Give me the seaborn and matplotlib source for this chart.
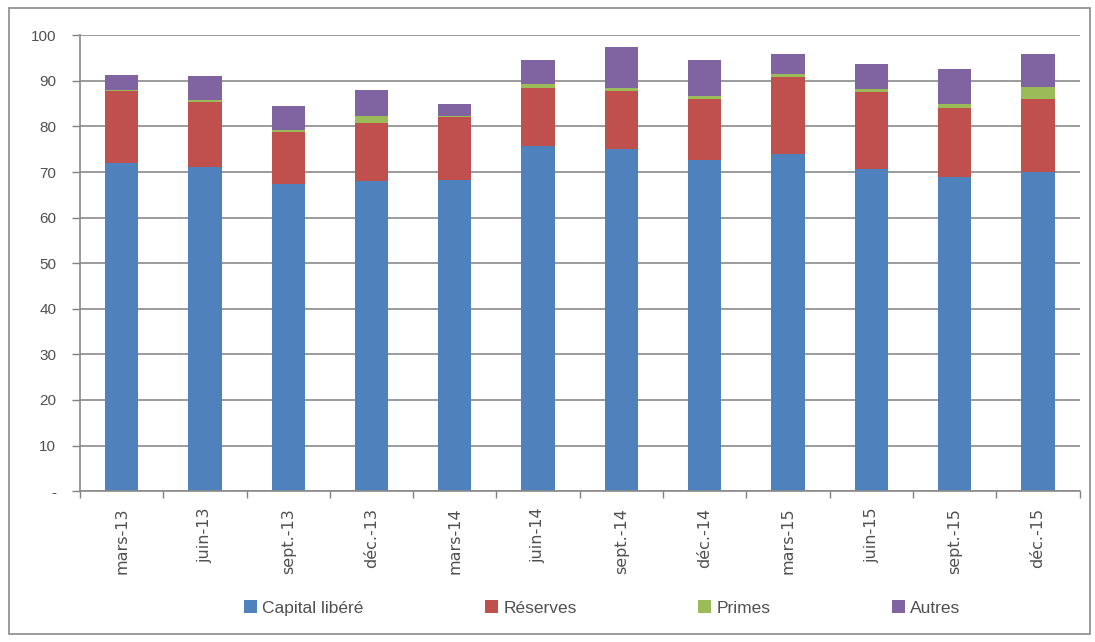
import matplotlib
matplotlib.use("Agg")
import matplotlib.pyplot as plt
from matplotlib.patches import Rectangle
import seaborn as sns
import pandas as pd
import numpy as np

categories = ["mars-13", "juin-13", "sept.-13", "déc.-13", "mars-14", "juin-14",
              "sept.-14", "déc.-14", "mars-15", "juin-15", "sept.-15", "déc.-15"]
capital = [71.9, 71.1, 67.3, 68.0, 68.2, 75.7, 75.0, 72.7, 73.9, 70.6, 68.9, 70.1]
reserves = [15.8, 14.3, 11.5, 12.8, 13.9, 12.7, 12.8, 13.4, 17.0, 17.0, 15.2, 15.9]
primes = [0.4, 0.5, 0.5, 1.5, 0.3, 0.9, 0.7, 0.5, 0.7, 0.7, 0.9, 2.7]
autres = [3.1, 5.1, 5.1, 5.6, 2.6, 5.2, 8.9, 7.9, 4.4, 5.5, 7.7, 7.3]
series_names = ["Capital libéré", "Réserves", "Primes", "Autres"]
colors = ["#4F81BD", "#C0504D", "#9BBB59", "#8064A2"]
yticks = [0, 10, 20, 30, 40, 50, 60, 70, 80, 90, 100]
ytick_labels = ["-", "10", "20", "30", "40", "50", "60", "70", "80", "90", "100"]

sns.set_theme(style="white")
plt.rcParams["font.family"] = ["Liberation Sans", "DejaVu Sans"]

fig = plt.figure(figsize=(10.95, 6.42), dpi=100)
ax = fig.add_axes([0.073, 0.235, 0.913, 0.71])

values = [capital, reserves, primes, autres]
bottom = np.zeros(len(categories))
for name, vals, col in zip(series_names, values, colors):
    df = pd.DataFrame({"cat": categories, "val": vals})
    sns.barplot(data=df, x="cat", y="val", order=categories, color=col,
                bottom=bottom, width=0.4, ax=ax, label=name, linewidth=0,
                saturation=1)
    bottom = bottom + np.array(vals)

ax.set_ylim(0, 100)
ax.set_xlim(-0.5, len(categories) - 0.5)
ax.set_yticks(yticks)
ax.set_yticklabels(ytick_labels, fontsize=11, color="#505050")
ax.set_xticks(range(len(categories)))
ax.set_xticklabels(categories, rotation=90, fontsize=11.5, color="#505050",
                   family=["DejaVu Sans"])
ax.set_xticks(np.arange(-0.5, len(categories) + 0.5, 1), minor=True)
ax.tick_params(axis="x", which="major", length=0, pad=12)
ax.tick_params(axis="x", which="minor", length=5, color="#808080", width=1, direction="out", bottom=True)
ax.tick_params(axis="y", length=6, color="#808080", width=1, direction="out", left=True, pad=11)
ax.set_xlabel("")
ax.set_ylabel("")
ax.yaxis.grid(True, color="#8a8a8a", linewidth=1.2)
ax.set_axisbelow(True)
for s in ["top", "right"]:
    ax.spines[s].set_visible(False)
for s in ["left", "bottom"]:
    ax.spines[s].set_color("#8a8a8a")
    ax.spines[s].set_linewidth(1.2)

handles, labels = ax.get_legend_handles_labels()
ax.legend(handles, labels, loc="center", bbox_to_anchor=(0.55, 0.053),
          bbox_transform=fig.transFigure, ncol=4, frameon=False, fontsize=12.5,
          handlelength=0.75, handleheight=0.75, handletextpad=0.3,
          columnspacing=7.0, labelcolor="#505050")

fig.patches.append(Rectangle((0.008, 0.012), 0.987, 0.976, transform=fig.transFigure,
                             fill=False, edgecolor="#8a8a8a", linewidth=1.2))

fig.savefig("out.png", dpi=100)
